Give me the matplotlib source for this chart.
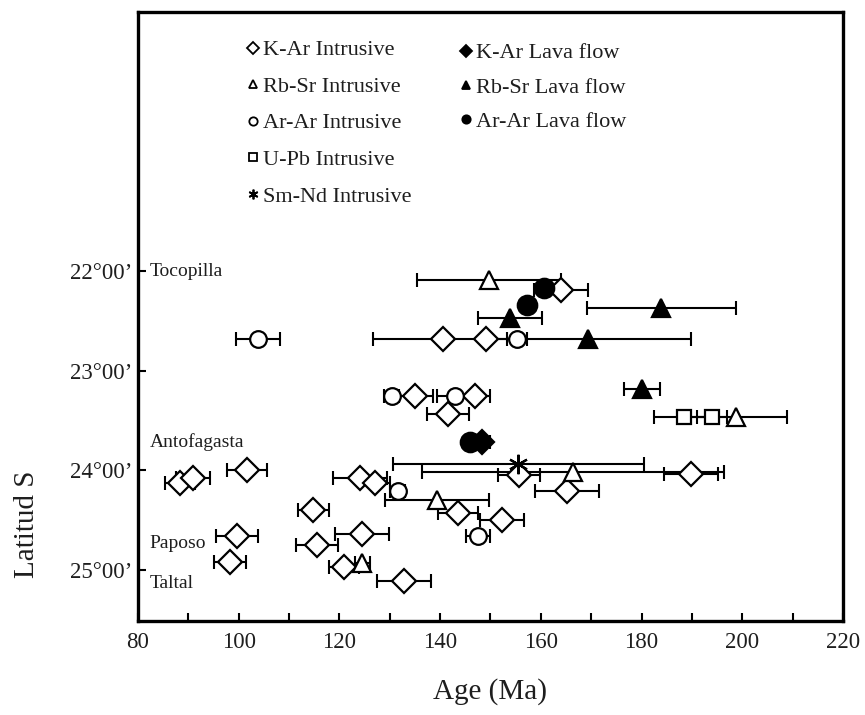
import matplotlib
matplotlib.use("Agg")
import matplotlib.pyplot as plt
from matplotlib.lines import Line2D

plt.rcParams['font.family'] = ['Liberation Serif', 'DejaVu Serif']
TXT = '#1e1e1e'

# ---- data: age (Ma), latitude (deg S), age error (Ma) ----
kar_int_age = [164.0, 140.6, 149.1, 135.0, 146.9, 141.6, 88.3, 90.9, 101.6, 124.1,
               127.1, 155.7, 189.8, 165.2, 114.8, 143.5, 152.3, 99.7, 124.5, 115.5,
               98.3, 120.9, 132.8]
kar_int_lat = [22.19, 22.68, 22.68, 23.25, 23.25, 23.43, 24.13, 24.08, 24.00, 24.08,
               24.13, 24.05, 24.04, 24.21, 24.40, 24.43, 24.50, 24.66, 24.64, 24.75,
               24.92, 24.97, 25.11]
kar_int_err = [5.4, 14.0, 0.0, 3.5, 3.0, 4.2, 3.0, 3.4, 4.0, 5.4,
               3.0, 4.2, 5.4, 6.4, 3.1, 4.0, 4.4, 4.2, 5.4, 4.2,
               3.2, 3.0, 5.4]

rbsr_int_age = [149.7, 198.8, 166.3, 139.4, 124.5]
rbsr_int_lat = [22.09, 23.46, 24.02, 24.30, 24.93]
rbsr_int_err = [14.3, 10.1, 30.0, 10.3, 1.5]

arar_int_age = [103.8, 155.3, 130.4, 142.9, 131.6, 147.5]
arar_int_lat = [22.68, 22.68, 23.25, 23.25, 24.21, 24.66]
arar_int_err = [4.4, 2.0, 1.5, 3.5, 1.5, 2.4]

upb_int_age = [188.4, 194.0]
upb_int_lat = [23.46, 23.46]
upb_int_err = [5.9, 3.0]

smnd_int_age = [155.5]
smnd_int_lat = [23.93]
smnd_int_err = [24.9]

kar_lava_age = [148.3]
kar_lava_lat = [23.71]
kar_lava_err = [1.7]

rbsr_lava_age = [183.9, 153.9, 169.4, 180.1]
rbsr_lava_lat = [22.37, 22.47, 22.68, 23.18]
rbsr_lava_err = [14.8, 6.3, 20.4, 3.6]

arar_lava_age = [160.6, 157.2, 146.0]
arar_lava_lat = [22.17, 22.34, 23.71]
arar_lava_err = [0.0, 0.0, 0.0]

lat_ticks = [22, 23, 24, 25]
lat_labels = ['22\u00b000\u2019', '23\u00b000\u2019', '24\u00b000\u2019', '25\u00b000\u2019']
age_ticks = [80, 100, 120, 140, 160, 180, 200, 220]

towns = ['Tocopilla', 'Antofagasta', 'Paposo', 'Taltal']
town_lat = [22.0, 23.71, 24.73, 25.13]

ASTERISK = (6, 2, 0)

fig = plt.figure(figsize=(8.65, 7.15), dpi=100)
ax = fig.add_axes([0.1595, 0.1315, 0.8151, 0.8517])

series = [
    (kar_int_age, kar_int_lat, kar_int_err, 'D', 12.5, 'white'),
    (rbsr_int_age, rbsr_int_lat, rbsr_int_err, '^', 13, 'white'),
    (arar_int_age, arar_int_lat, arar_int_err, 'o', 12, 'white'),
    (upb_int_age, upb_int_lat, upb_int_err, 's', 10.5, 'white'),
    (smnd_int_age, smnd_int_lat, smnd_int_err, ASTERISK, 14, 'black'),
    (kar_lava_age, kar_lava_lat, kar_lava_err, 'D', 12, 'black'),
    (rbsr_lava_age, rbsr_lava_lat, rbsr_lava_err, '^', 13, 'black'),
    (arar_lava_age, arar_lava_lat, arar_lava_err, 'o', 14, 'black'),
]
for age, lat, err, mk, ms, fc in series:
    ax.errorbar(age, lat, xerr=err, fmt='none', ecolor='black', elinewidth=1.5,
                capsize=5, capthick=1.5)
    ax.plot(age, lat, linestyle='none', marker=mk, ms=ms, markerfacecolor=fc,
            markeredgecolor='black', markeredgewidth=1.6, zorder=3)

for name, lat in zip(towns, town_lat):
    ax.text(82.3, lat, name, fontsize=14, color=TXT, ha='left', va='center')

ax.set_xlim(80, 220)
ax.set_ylim(25.51, 19.40)
ax.set_xticks(age_ticks)
ax.set_xticks(range(90, 220, 20), minor=True)
ax.set_yticks(lat_ticks)
ax.set_yticklabels(lat_labels)
ax.tick_params(axis='both', which='both', direction='in', width=1.5, colors='black',
               labelcolor=TXT, labelsize=16.5)
ax.tick_params(axis='x', which='both', length=6, pad=8)
ax.tick_params(axis='y', length=6, pad=4)
for s in ax.spines.values():
    s.set_linewidth(2.4)

ax.set_xlabel('Age (Ma)', fontsize=21, color=TXT, labelpad=18)
ax.set_ylabel('Latitud S', fontsize=21, color=TXT)
ax.yaxis.set_label_coords(-0.139, 0.158)

def proxy(mk, fc, ms=6):
    return Line2D([], [], linestyle='none', marker=mk, ms=ms, markerfacecolor=fc,
                  markeredgecolor='black', markeredgewidth=1.3)

legkw = dict(loc='upper left', frameon=False, fontsize=16, handlelength=0.6,
             handletextpad=0.12, borderpad=0.2, labelcolor=TXT)

leg1 = ax.legend(
    [proxy('D', 'white'), proxy('^', 'white'), proxy('o', 'white'),
     proxy('s', 'white'), proxy(ASTERISK, 'black', 7)],
    ['K-Ar Intrusive', 'Rb-Sr Intrusive', 'Ar-Ar Intrusive', 'U-Pb Intrusive',
     'Sm-Nd Intrusive'],
    bbox_to_anchor=(0.132, 0.98), labelspacing=0.72, **legkw)
ax.add_artist(leg1)
ax.legend(
    [proxy('D', 'black'), proxy('^', 'black'), proxy('o', 'black')],
    ['K-Ar Lava flow', 'Rb-Sr Lava flow', 'Ar-Ar Lava flow'],
    bbox_to_anchor=(0.434, 0.975), labelspacing=0.62, **legkw)

fig.savefig('out.png', dpi=100, facecolor='white')
